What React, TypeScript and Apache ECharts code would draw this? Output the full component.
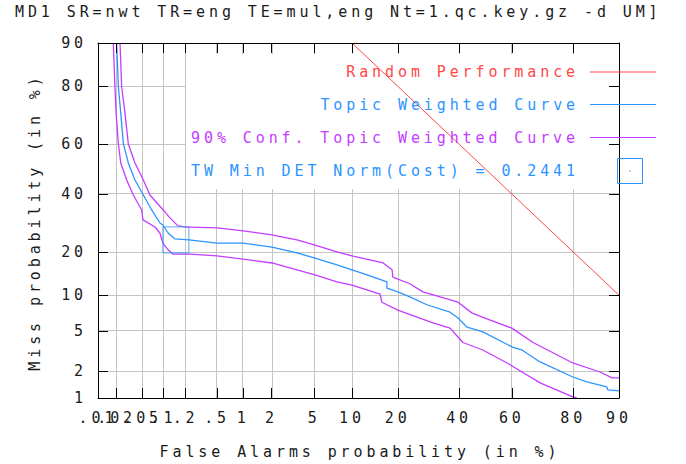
import React, { useEffect, useRef } from 'react';
import * as echarts from 'echarts';

const titleText = 'MD1 SR=nwt TR=eng TE=mul,eng Nt=1.qc.key.gz -d UM]';
const xAxisTitle = 'False Alarms probability (in %)';
const yAxisTitle = 'Miss probability (in %)';

const xTickPct = [0.01, 0.02, 0.05, 0.1, 0.2, 0.5, 1, 2, 5, 10, 20, 40, 60, 80, 90];
const xTickLabels = ['.01', '.02', '.05', '.1', '.2', '.5', '1', '2', '5', '10', '20', '40', '60', '80', '90'];
// label groups so that crowded labels are all drawn (reference shows them overlapping)
const xLabelGroupA = [0.02, 0.1, 0.2, 0.5, 1, 2, 5, 10, 20, 40, 60, 80, 90];
const xLabelGroupB = [0.01];
const xLabelGroupC = [0.05];
const yTickPct = [1, 2, 5, 10, 20, 40, 60, 80, 90];
const yTickLabels = ['1', '2', '5', '10', '20', '40', '60', '80', '90'];
const xGridPct = [0.02, 0.05, 0.1, 0.2, 0.5, 1, 2, 5, 10, 20, 40, 60, 80];
const yGridPct = [2, 5, 10, 20, 40, 60, 80];

const legendNames = [
  'Random Performance',
  'Topic Weighted Curve',
  '90% Conf. Topic Weighted Curve',
  'TW Min DET Norm(Cost) = 0.2441',
];

const randomFA = [10, 20, 40, 60, 80, 90];
const randomMiss = [90, 80, 60, 40, 20, 10];

const twFA = [0.02, 0.0213, 0.0232, 0.0255, 0.0304, 0.0384, 0.0512, 0.0678, 0.089, 0.098, 0.116, 0.144, 0.221, 0.498, 1.0, 2.02, 3.52, 5.09, 7.7, 10.0, 12.8, 17.2, 17.2, 20.0, 23.4, 28.7, 36.7, 39.6, 43.0, 49.0, 60.4, 63.7, 70.0, 79.9, 83.5, 87.8, 88.0, 90.0];
const twMiss = [90, 79.8, 71.6, 60.1, 52.5, 45.6, 39.6, 33.9, 29.2, 28.5, 25.8, 23.9, 23.6, 22.6, 22.6, 21.4, 19.7, 18.3, 16.5, 15.3, 14.1, 12.6, 11.3, 10.6, 9.7, 8.4, 7.3, 6.5, 5.4, 4.9, 3.5, 3.3, 2.5, 1.73, 1.53, 1.34, 1.24, 1.21];

const upFA = [0.0226, 0.024, 0.027, 0.0304, 0.0384, 0.0512, 0.064, 0.099, 0.123, 0.158, 0.207, 0.228, 0.498, 1.0, 2.02, 3.52, 5.09, 7.7, 10.0, 16.3, 18.5, 18.7, 23.4, 27.4, 39.6, 44.8, 49.0, 60.0, 67.6, 79.9, 86.4, 88.8, 90.0];
const upMiss = [90, 79.8, 71.6, 60.1, 52.5, 45.6, 39.6, 33.9, 31.0, 28.2, 27.8, 27.8, 27.5, 26.5, 25.2, 23.6, 22.0, 20.0, 18.9, 17.0, 15.3, 13.6, 12.2, 10.6, 8.8, 7.2, 6.6, 5.3, 3.9, 2.44, 1.96, 1.69, 1.69];

const loFA = [0.0177, 0.0188, 0.0196, 0.0213, 0.0232, 0.0287, 0.0362, 0.0483, 0.0506, 0.0757, 0.089, 0.098, 0.116, 0.135, 0.228, 0.498, 1.0, 2.02, 3.52, 5.09, 7.7, 10.0, 15.6, 16.0, 20.0, 30.7, 36.7, 39.6, 41.4, 49.0, 58.2, 63.7, 70.0, 79.9, 81.0];
const loMiss = [90, 79.8, 71.6, 60.1, 52.5, 45.6, 39.6, 33.9, 30.3, 27.8, 25.8, 22.6, 20.6, 19.4, 19.4, 18.9, 18.0, 17.0, 15.3, 14.1, 12.6, 11.9, 10.2, 8.8, 7.6, 5.9, 5.3, 4.4, 3.9, 3.3, 2.44, 1.96, 1.49, 1.03, 1.0];

const minDetFA = [0.148];
const minDetMiss = [23.6];

const RED = '#ff4848';
const BLUE = '#2b94ff';
const PURPLE = '#c43cff';
const INK = '#1a1a1a';
const FONT = '"DejaVu Sans Mono", "Liberation Mono", monospace';

function probit(p: number): number {
  const a = [-3.969683028665376e1, 2.209460984245205e2, -2.759285104469687e2, 1.38357751867269e2, -3.066479806614716e1, 2.506628277459239];
  const b = [-5.447609879822406e1, 1.615858368580409e2, -1.556989798598866e2, 6.680131188771972e1, -1.328068155288572e1];
  const c = [-7.784894002430293e-3, -3.223964580411365e-1, -2.400758277161838, -2.549732539343734, 4.374664141464968, 2.938163982698783];
  const d = [7.784695709041462e-3, 3.224671290700398e-1, 2.445134137142996, 3.754408661907416];
  const pl = 0.02425;
  let q: number, r: number;
  if (p < pl) {
    q = Math.sqrt(-2 * Math.log(p));
    return (((((c[0] * q + c[1]) * q + c[2]) * q + c[3]) * q + c[4]) * q + c[5]) / ((((d[0] * q + d[1]) * q + d[2]) * q + d[3]) * q + 1);
  }
  if (p <= 1 - pl) {
    q = p - 0.5;
    r = q * q;
    return ((((((a[0] * r + a[1]) * r + a[2]) * r + a[3]) * r + a[4]) * r + a[5]) * q) / (((((b[0] * r + b[1]) * r + b[2]) * r + b[3]) * r + b[4]) * r + 1);
  }
  q = Math.sqrt(-2 * Math.log(1 - p));
  return -(((((c[0] * q + c[1]) * q + c[2]) * q + c[3]) * q + c[4]) * q + c[5]) / ((((d[0] * q + d[1]) * q + d[2]) * q + d[3]) * q + 1);
}

const pz = (pct: number) => probit(pct / 100);
const toPts = (fa: number[], miss: number[]) => fa.map((f, i) => [pz(f), pz(miss[i])]);

const nearestLabel = (v: number, pcts: number[], labels: string[]) => {
  let best = 0;
  let bd = Infinity;
  pcts.forEach((p, i) => {
    const dd = Math.abs(pz(p) - v);
    if (dd < bd) { bd = dd; best = i; }
  });
  return labels[best];
};

export default function App() {
  const ref = useRef<HTMLDivElement>(null);
  useEffect(() => {
    if (!ref.current) return;
    const chart = echarts.init(ref.current, null, { renderer: 'svg' });
    const xMin = pz(0.01), xMax = pz(90), yMin = pz(1), yMax = pz(90);
    const xTicks = xTickPct.map(pz);
    const yTicks = yTickPct.map(pz);
    const axisLineStyle = { lineStyle: { color: '#000', width: 1 } };
    const lbl = { fontFamily: FONT, fontSize: 15, color: INK };
    const textStyle = (fill: string) => ({ fill, font: `15px ${FONT}` });
    const xFmt = (v: number) => nearestLabel(v, xTickPct, xTickLabels);
    const labelOnlyX = (pcts: number[]) => ({
      type: 'value', min: xMin, max: xMax, position: 'bottom', z: 5,
      axisLine: { show: false },
      axisTick: { show: false },
      axisLabel: { show: true, customValues: pcts.map(pz), margin: 12, showMinLabel: true, showMaxLabel: true, ...lbl, formatter: xFmt },
      splitLine: { show: false },
    });

    chart.setOption({
      animation: false,
      backgroundColor: '#fff',
      title: {
        text: titleText,
        left: 15,
        top: 4,
        padding: 0,
        textStyle: { fontFamily: FONT, fontSize: 15, fontWeight: 'normal', color: INK },
      },
      grid: { left: 98, top: 43, width: 521, height: 355, show: false },
      xAxis: [
        {
          type: 'value', min: xMin, max: xMax, position: 'bottom', z: 5,
          axisLine: { show: true, onZero: false, ...axisLineStyle },
          axisTick: { show: true, inside: true, length: 10, customValues: xTicks, lineStyle: { color: '#000' } },
          axisLabel: {
            show: true, customValues: xLabelGroupA.map(pz), margin: 12, showMinLabel: true, showMaxLabel: true,
            ...lbl, formatter: xFmt,
          },
          splitLine: { show: false },
        },
        {
          type: 'value', min: xMin, max: xMax, position: 'top', z: 5,
          axisLine: { show: true, onZero: false, ...axisLineStyle },
          axisTick: { show: true, inside: true, length: 10, customValues: xTicks, lineStyle: { color: '#000' } },
          axisLabel: { show: false },
          splitLine: { show: false },
        },
        labelOnlyX(xLabelGroupB),
        labelOnlyX(xLabelGroupC),
      ],
      yAxis: [
        {
          type: 'value', min: yMin, max: yMax, position: 'left', z: 5,
          axisLine: { show: true, onZero: false, ...axisLineStyle },
          axisTick: { show: true, inside: true, length: 10, customValues: yTicks, lineStyle: { color: '#000' } },
          axisLabel: {
            show: true, customValues: yTicks, margin: 11, showMinLabel: true, showMaxLabel: true,
            ...lbl, formatter: (v: number) => nearestLabel(v, yTickPct, yTickLabels),
          },
          splitLine: { show: false },
        },
        {
          type: 'value', min: yMin, max: yMax, position: 'right', z: 5,
          axisLine: { show: true, onZero: false, ...axisLineStyle },
          axisTick: { show: true, inside: true, length: 10, customValues: yTicks, lineStyle: { color: '#000' } },
          axisLabel: { show: false },
          splitLine: { show: false },
        },
      ],
      graphic: {
        z: 1,
        elements: [
          { type: 'rect', z: 1, silent: true, shape: { x: 186, y: 54, width: 476, height: 135 }, style: { fill: '#fff' } },
          { type: 'text', z: 6, x: 579, y: 72, style: { ...textStyle(RED), text: legendNames[0], textAlign: 'right', textVerticalAlign: 'middle' } },
          { type: 'text', z: 6, x: 579, y: 105, style: { ...textStyle(BLUE), text: legendNames[1], textAlign: 'right', textVerticalAlign: 'middle' } },
          { type: 'text', z: 6, x: 579, y: 138, style: { ...textStyle(PURPLE), text: legendNames[2], textAlign: 'right', textVerticalAlign: 'middle' } },
          { type: 'text', z: 6, x: 579, y: 171, style: { ...textStyle(BLUE), text: legendNames[3], textAlign: 'right', textVerticalAlign: 'middle' } },
          { type: 'line', z: 6, shape: { x1: 590, y1: 72, x2: 656, y2: 72 }, style: { stroke: RED, lineWidth: 1 } },
          { type: 'line', z: 6, shape: { x1: 590, y1: 104.5, x2: 656, y2: 104.5 }, style: { stroke: BLUE, lineWidth: 1 } },
          { type: 'line', z: 6, shape: { x1: 590, y1: 137.5, x2: 656, y2: 137.5 }, style: { stroke: PURPLE, lineWidth: 1 } },
          { type: 'rect', z: 6, shape: { x: 617.5, y: 158.5, width: 25, height: 25 }, style: { fill: 'none', stroke: BLUE, lineWidth: 1 } },
          { type: 'circle', z: 6, shape: { cx: 630, cy: 171, r: 0.7 }, style: { fill: BLUE } },
          { type: 'text', z: 6, x: 360, y: 452, style: { ...textStyle(INK), text: xAxisTitle, textAlign: 'center', textVerticalAlign: 'middle' } },
          { type: 'text', z: 6, x: 35, y: 222, rotation: Math.PI / 2, style: { ...textStyle(INK), text: yAxisTitle, textAlign: 'center', textVerticalAlign: 'middle' } },
        ],
      },
      series: [
        {
          type: 'line', name: 'grid', z: 0, xAxisIndex: 0, yAxisIndex: 0, data: [], silent: true,
          markLine: {
            z: 0, silent: true, symbol: ['none', 'none'], animation: false,
            label: { show: false },
            lineStyle: { color: '#c4c4c4', type: 'solid', width: 1 },
            emphasis: { disabled: true },
            data: [
              ...xGridPct.map((p) => ({ xAxis: pz(p) })),
              ...yGridPct.map((p) => ({ yAxis: pz(p) })),
            ],
          },
        },
        {
          type: 'line', name: legendNames[0], z: 3, data: toPts(randomFA, randomMiss), showSymbol: false, symbol: 'none',
          lineStyle: { color: RED, width: 1 }, itemStyle: { color: RED },
        },
        {
          type: 'line', name: 'upper', z: 3, data: toPts(upFA, upMiss), showSymbol: false, symbol: 'none',
          lineStyle: { color: PURPLE, width: 1.3 }, itemStyle: { color: PURPLE },
        },
        {
          type: 'line', name: 'lower', z: 3, data: toPts(loFA, loMiss), showSymbol: false, symbol: 'none',
          lineStyle: { color: PURPLE, width: 1.3 }, itemStyle: { color: PURPLE },
        },
        {
          type: 'line', name: legendNames[1], z: 4, data: toPts(twFA, twMiss), showSymbol: false, symbol: 'none',
          lineStyle: { color: BLUE, width: 1.3 }, itemStyle: { color: BLUE },
        },
        {
          type: 'scatter', name: legendNames[3], z: 4, data: toPts(minDetFA, minDetMiss), symbol: 'rect', symbolSize: 26,
          itemStyle: { color: 'rgba(0,0,0,0)', borderColor: BLUE, borderWidth: 1 },
        },
      ],
    });
    return () => chart.dispose();
  }, []);

  return (
    <>
      <style>{'#detchart text{letter-spacing:3.9px}'}</style>
      <div
        id="detchart"
        ref={ref}
        style={{ position: 'fixed', left: 0, top: 0, width: 686, height: 464, background: '#fff' }}
      />
    </>
  );
}
